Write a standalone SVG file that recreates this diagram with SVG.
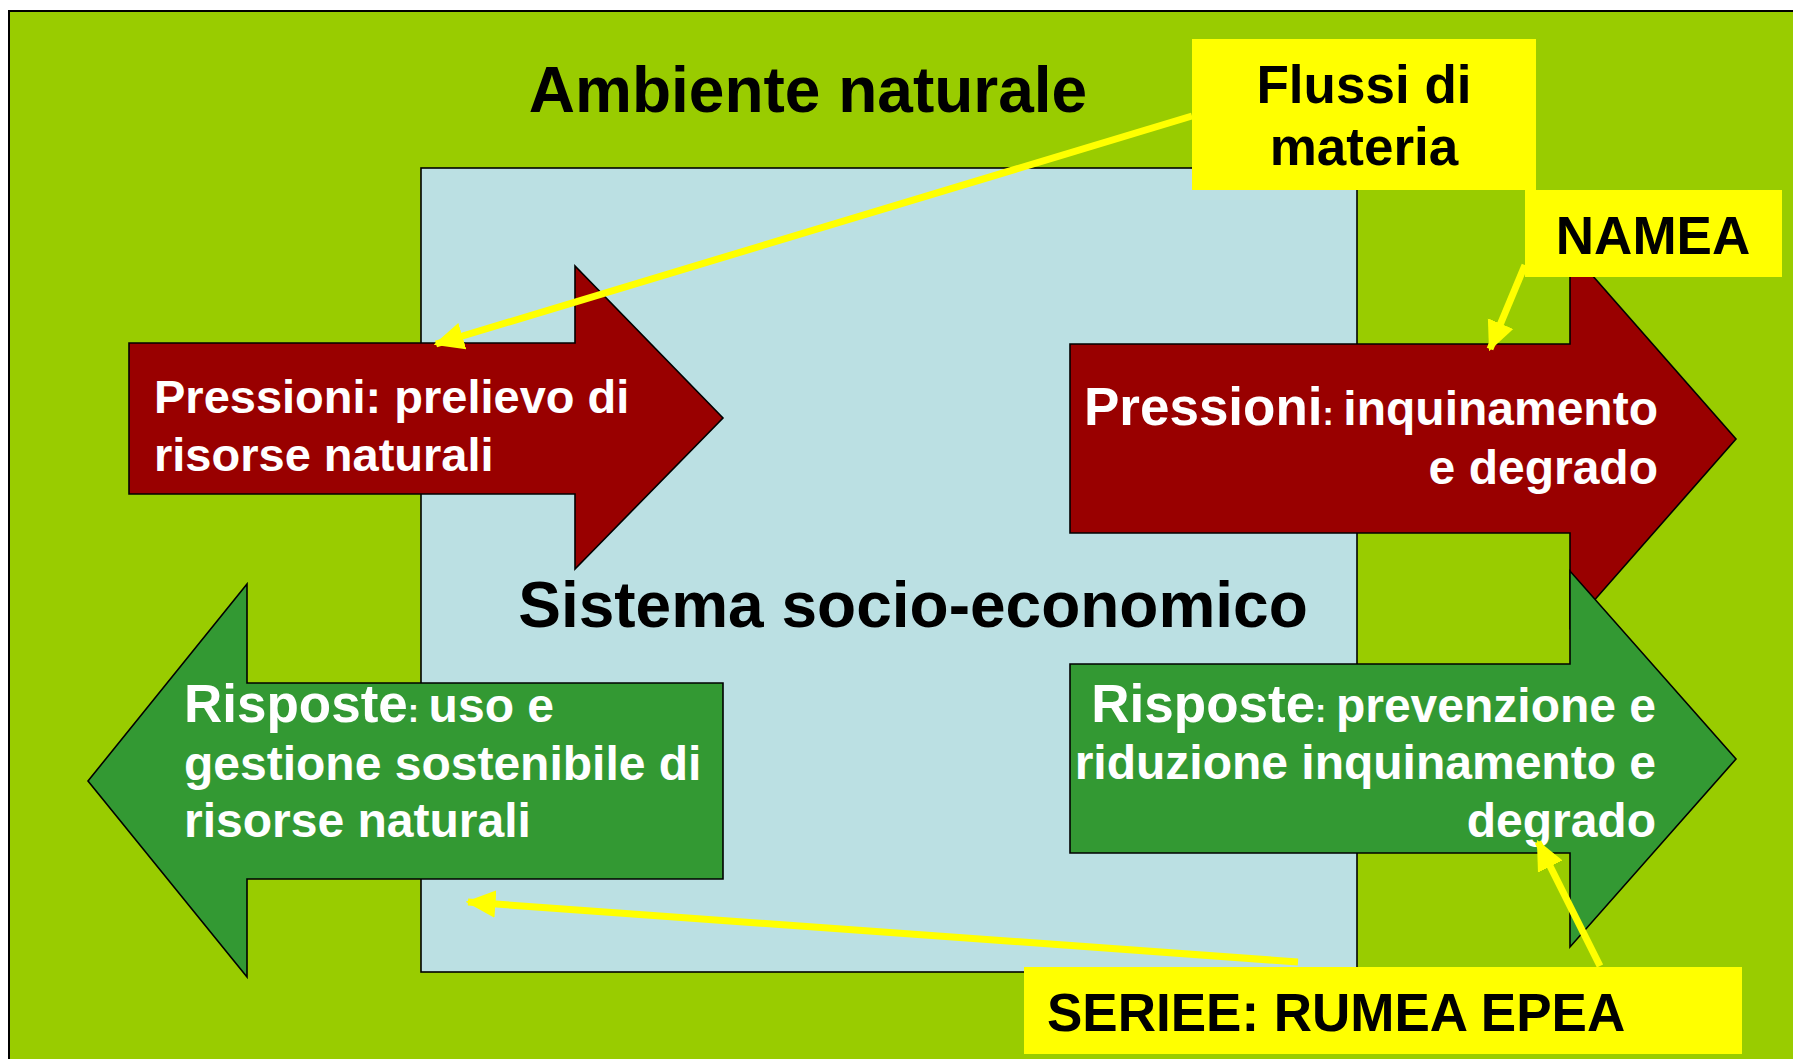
<svg xmlns="http://www.w3.org/2000/svg" width="1793" height="1059" viewBox="0 0 1793 1059">
<style>
  .shape { stroke: #000; stroke-width: 1.6; stroke-linejoin: miter; }
  .red { fill: #990000; }
  .grn { fill: #339933; }
  .ybox { fill: #FFFF00; stroke: none; }
  .wt { fill: #fff; font-family: "Liberation Sans", Arial, sans-serif; font-weight: bold; }
  .bk { fill: #000; font-family: "Liberation Sans", Arial, sans-serif; font-weight: bold; }
  .conn { stroke: #FFFF00; stroke-width: 7; fill: none; }
  .sm { font-size: 34px; }
</style>
<defs>
  <marker id="ah" markerUnits="userSpaceOnUse" markerWidth="30" markerHeight="30" viewBox="0 0 24 24" refX="22" refY="12" orient="auto">
    <path d="M0,1 L24,12 L0,23 Z" fill="#FFFF00"/>
  </marker>
</defs>
<rect width="1793" height="1059" fill="#fff"/>
<g id="ambiente">
  <rect x="9" y="11" width="1800" height="1100" fill="#99CC00" stroke="#000" stroke-width="2"/>
  <text class="bk" x="808" y="112" font-size="64" text-anchor="middle">Ambiente naturale</text>
</g>
<g id="sistema">
  <rect x="421" y="168" width="936" height="804" fill="#BBE0E3" stroke="#000" stroke-width="1.6"/>
</g>
<g id="pressioni-prelievo">
  <polygon class="shape red" points="129,343 575,343 575,266 723,418 575,569 575,494 129,494"/>
  <text class="wt" font-size="47"><tspan x="154" y="413">Pressioni: prelievo di</tspan><tspan x="154" y="471">risorse naturali</tspan></text>
</g>
<g id="risposte-uso">
  <polygon class="shape grn" points="723,683 247,683 247,584 88,781 247,977 247,879 723,879"/>
  <text class="wt" font-size="48"><tspan x="184" y="722"><tspan font-size="53">Risposte</tspan><tspan class="sm">: </tspan>uso e</tspan><tspan x="184" y="780">gestione sostenibile di</tspan><tspan x="184" y="837">risorse naturali</tspan></text>
</g>
<g id="pressioni-inquinamento">
  <polygon class="shape red" points="1070,344 1570,344 1570,250 1736,439 1570,628 1570,533 1070,533"/>
  <text class="wt" font-size="48" text-anchor="end"><tspan x="1658" y="425"><tspan font-size="53">Pressioni</tspan><tspan class="sm">: </tspan>inquinamento</tspan><tspan x="1658" y="484">e degrado</tspan></text>
</g>
<g id="risposte-prevenzione">
  <polygon class="shape grn" points="1070,664 1570,664 1570,571 1736,759 1570,947 1570,853 1070,853"/>
  <text class="wt" font-size="48" text-anchor="end"><tspan x="1656" y="722"><tspan font-size="53">Risposte</tspan><tspan class="sm">: </tspan>prevenzione e</tspan><tspan x="1656" y="779">riduzione inquinamento e</tspan><tspan x="1656" y="837">degrado</tspan></text>
</g>
<g id="sistema-label">
  <text class="bk" x="913" y="627" font-size="64" text-anchor="middle">Sistema socio-economico</text>
</g>
<g id="flussi">
  <rect class="ybox" x="1192" y="39" width="344" height="151"/>
  <text class="bk" font-size="53" text-anchor="middle"><tspan x="1364" y="103">Flussi di</tspan><tspan x="1364" y="165">materia</tspan></text>
</g>
<g id="namea">
  <rect class="ybox" x="1525" y="190" width="257" height="87"/>
  <text class="bk" x="1653" y="254" font-size="53" text-anchor="middle">NAMEA</text>
</g>
<g id="seriee">
  <rect class="ybox" x="1024" y="967" width="718" height="87"/>
  <text class="bk" x="1047" y="1031" font-size="53">SERIEE: RUMEA EPEA</text>
</g>
<g id="connectors">
  <line class="conn" x1="1192" y1="116" x2="436" y2="344" marker-end="url(#ah)"/>
  <line class="conn" x1="1525" y1="265" x2="1490" y2="349" marker-end="url(#ah)"/>
  <line class="conn" x1="1298" y1="962" x2="468" y2="902" marker-end="url(#ah)"/>
  <line class="conn" x1="1600" y1="966" x2="1538" y2="842" marker-end="url(#ah)"/>
</g>
</svg>
